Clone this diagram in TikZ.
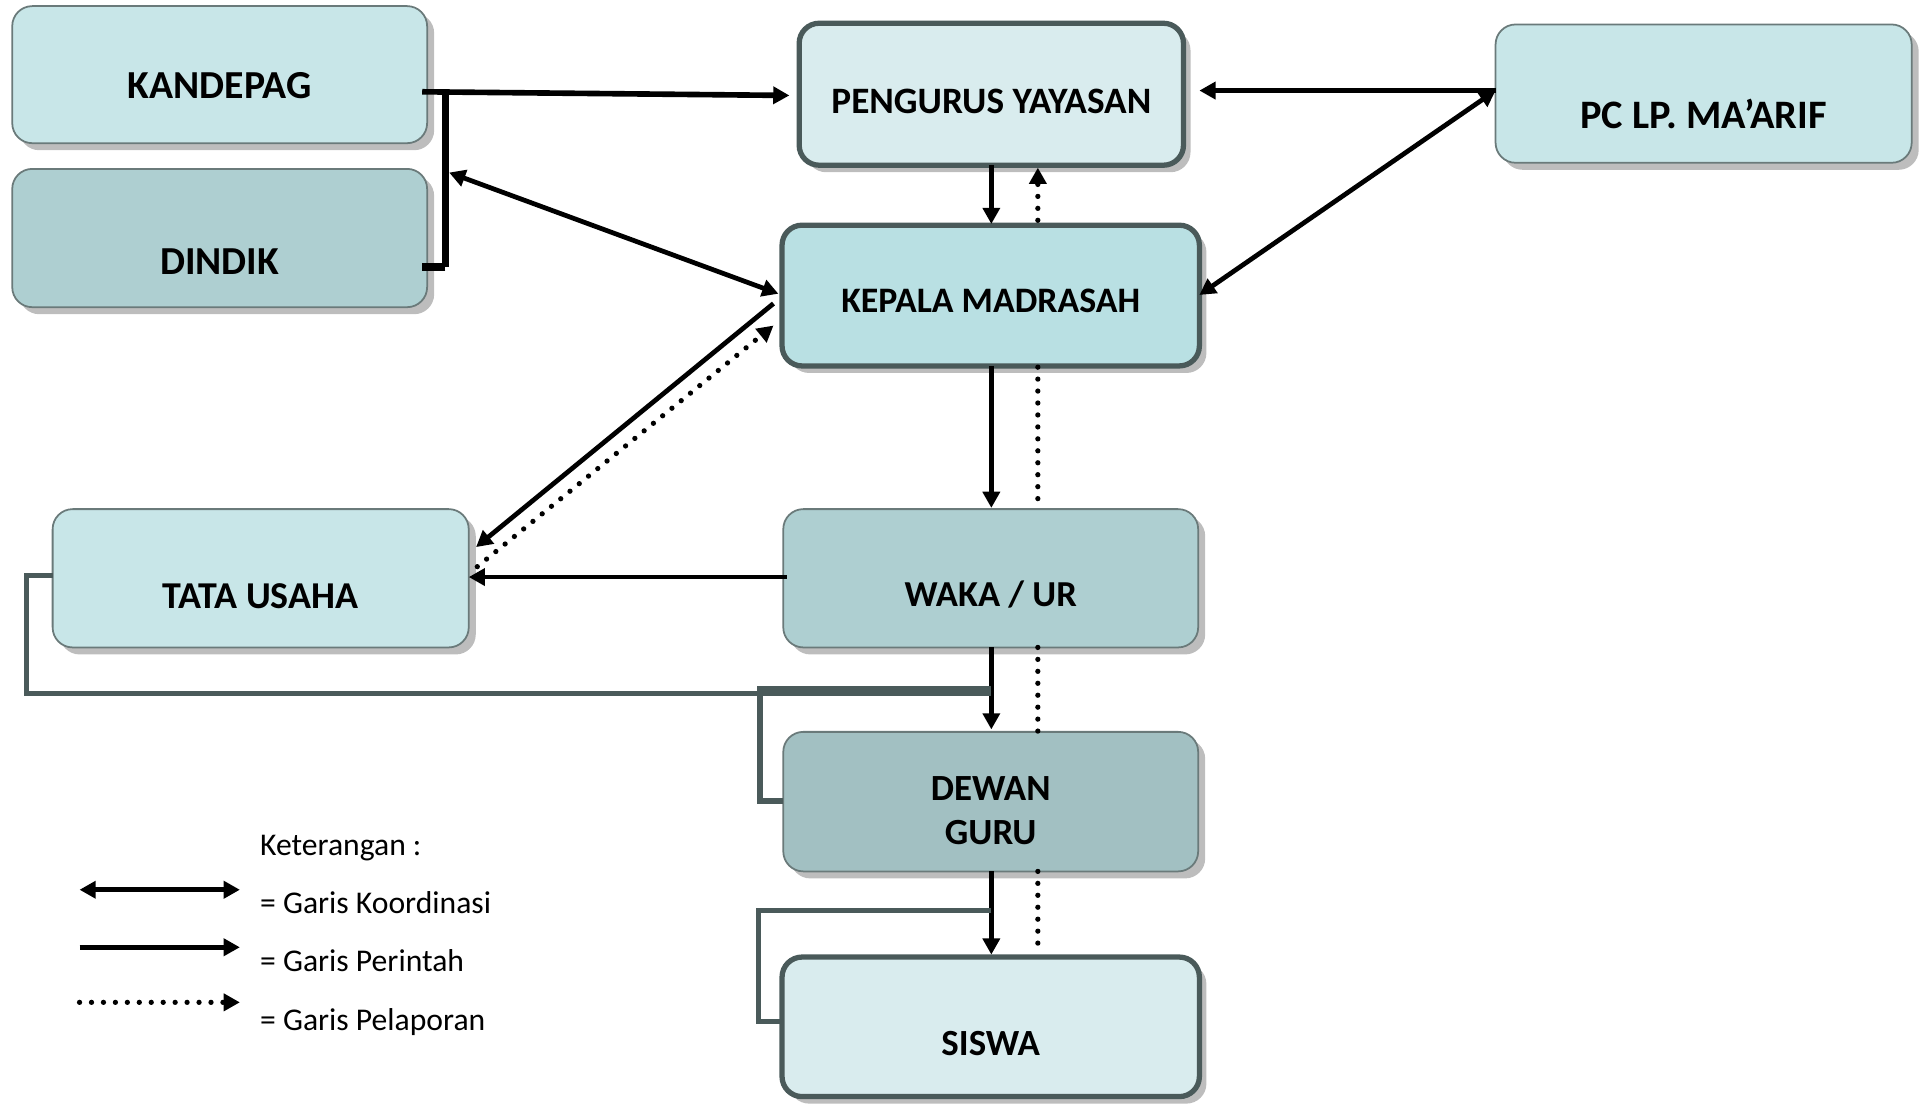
\documentclass[tikz,border=0pt]{standalone}
\usepackage{fontspec}
\setmainfont{Carlito}
\usetikzlibrary{arrows.meta,shadows}
\newlength\pxu \setlength\pxu{0.012239cm}
\definecolor{lt1}{HTML}{C8E6E8}
\definecolor{lt0}{HTML}{D9ECEE}
\definecolor{lt2}{HTML}{B9E0E3}
\definecolor{md1}{HTML}{AECFD1}
\definecolor{md2}{HTML}{A2C0C2}
\definecolor{dk}{HTML}{4A5A5A}
\definecolor{thinb}{HTML}{6A7A7A}
\definecolor{shd}{HTML}{BDBDBD}
\begin{document}
\begin{tikzpicture}[x=0.012239cm, y=-0.012239cm,
  sz/.style 2 args={minimum width=#1*\pxu, minimum height=#2*\pxu},
  box/.style={draw=thinb, line width=0.5pt, rounded corners=0.2cm, inner sep=0pt,
    drop shadow={shadow xshift=2pt, shadow yshift=-2pt, fill=shd, opacity=1}},
  thick box/.style={box, draw=dk, line width=1.5pt},
  tx/.style={font=\bfseries\fontsize{#1}{12.5}\selectfont, inner sep=0pt, align=center},
  tx/.default=10.6,
  lg/.style={font=\fontsize{9}{11}\selectfont, inner sep=0pt, anchor=base west},
  tip/.tip={Triangle[length=4.6pt,width=4.8pt]},
  cmd/.style={line width=1.35pt, -tip},
  both/.style={line width=1.35pt, tip-tip},
  dots/.style={line width=1.5pt, line cap=round, dash pattern=on 0pt off 3.4pt},
  gry/.style={draw=dk, line width=1.4pt}]
\useasboundingbox (0,0) rectangle (1568,903);

% boxes
\node[box, fill=lt1, sz={339}{112}] (kan) at (179.5,61) {};
\node[tx=11.3] (kant) at (179.5,70) {KANDEPAG};
\node[box, fill=md1, sz={339}{113}] (din) at (179.5,194.5) {};
\node[tx=11.3] (dint) at (179.5,214) {DINDIK};
\node[thick box, fill=lt0, sz={314}{116}] (peng) at (810,77) {};
\node[tx=10.6] (pengt) at (810,83) {PENGURUS YAYASAN};
\node[box, fill=lt1, sz={340}{113}] (pc) at (1392,76.5) {};
\node[tx=11.5] (pct) at (1392,93) {PC LP. MA’ARIF};
\node[thick box, fill=lt2, sz={341}{115}] (kep) at (809.5,241.5) {};
\node[tx=10.2] (kept) at (809.5,246) {KEPALA MADRASAH};
\node[box, fill=lt1, sz={340}{113}] (tata) at (213,472.5) {};
\node[tx=10.8] (tatat) at (213,487) {TATA USAHA};
\node[box, fill=md1, sz={339}{113}] (waka) at (809.5,472.5) {};
\node[tx=10.4] (wakat) at (809.5,486) {WAKA / UR};
\node[box, fill=md2, sz={339}{114}] (dew) at (809.5,655) {};
\node[tx=10.5] (dewt) at (809.5,662) {DEWAN\\GURU};
\node[thick box, fill=lt0, sz={341}{114}] (sis) at (809.5,839) {};
\node[tx=10.5] (sist) at (809.5,853) {SISWA};

% connector end points
\coordinate (k1) at (345,75);
\coordinate (kb) at (364,75);
\coordinate (db) at (364,218);
\coordinate (d1) at (345,218);
\coordinate (p1) at (645,78);
\coordinate (bm) at (367,141);
\coordinate (kw1) at (636,240);
\coordinate (pc1) at (1222,74);
\coordinate (pe) at (980,74);
\coordinate (ke) at (980,241);
\coordinate (pb1) at (810,135);
\coordinate (kt1) at (810,183);
\coordinate (kt2) at (848,180);
\coordinate (pb2) at (848,137);
\coordinate (kb1) at (810,299);
\coordinate (wt1) at (810,415);
\coordinate (kb2) at (848,300);
\coordinate (wt2) at (848,416);
\coordinate (kw2) at (632,248);
\coordinate (te1) at (389,447);
\coordinate (te2) at (390,463);
\coordinate (kw3) at (632,266);
\coordinate (ww) at (643,471.5);
\coordinate (te3) at (383,471.5);
\coordinate (wb1) at (810,529);
\coordinate (dt1) at (810,596);
\coordinate (wb2) at (848,529);
\coordinate (dt2) at (848,598);
\coordinate (db1) at (810,712);
\coordinate (st1) at (810,780);
\coordinate (db2) at (848,712);
\coordinate (st2) at (848,778);

% black connectors
\draw[cmd, line width=1.6pt] (k1) -- (p1);
\draw[line width=2pt] (kb) -- (db);
\draw[line width=2.3pt] (db) -- (d1);
\draw[both] (bm) -- (kw1);
\draw[cmd] (pc1) -- (pe);
\draw[both] (ke) -- (pc1);
\draw[cmd] (pb1) -- (kt1);
\draw[dots, -tip] (kt2) -- (pb2);
\draw[cmd] (kb1) -- (wt1);
\draw[dots] (kb2) -- (wt2);
\draw[cmd] (kw2) -- (te1);
\draw[dots, -tip] (te2) -- (kw3);
\draw[cmd] (ww) -- (te3);
\draw[cmd] (wb1) -- (dt1);
\draw[dots] (wb2) -- (dt2);
\draw[cmd] (db1) -- (st1);
\draw[dots] (db2) -- (st2);

% grey connectors
\coordinate (tw) at (43,470);
\coordinate (g1) at (22,470);
\coordinate (g2) at (22,567);
\coordinate (g3) at (810,567);
\coordinate (g4) at (810,563);
\coordinate (g5) at (621,563);
\coordinate (g6) at (621,654.5);
\coordinate (dw) at (640,654.5);
\coordinate (g7) at (810,744);
\coordinate (g8) at (620,744);
\coordinate (g9) at (620,835);
\coordinate (sw) at (639,835);
\draw[gry] (tw) -- (g1) -- (g2) -- (g3);
\draw[gry, line width=1.7pt] (g4) -- (g5) -- (g6) -- (dw);
\draw[gry] (g7) -- (g8) -- (g9) -- (sw);

% legend
\node[lg] (ket) at (212,699) {Keterangan :};
\coordinate (l1a) at (65,727);
\coordinate (l1b) at (196,727);
\coordinate (l2a) at (65,774);
\coordinate (l2b) at (196,774);
\coordinate (l3a) at (65,819);
\coordinate (l3b) at (196,819);
\draw[both] (l1a) -- (l1b);
\draw[cmd] (l2a) -- (l2b);
\draw[dots, -tip] (l3a) -- (l3b);
\node[lg] (lk) at (212,746) {= Garis Koordinasi};
\node[lg] (lp) at (212,794) {= Garis Perintah};
\node[lg] (ll) at (212,842) {= Garis Pelaporan};
\end{tikzpicture}
\end{document}
